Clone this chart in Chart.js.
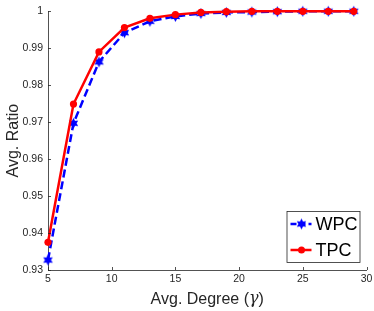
<!DOCTYPE html>
<html>
<head>
<meta charset="utf-8">
<script src="https://cdn.jsdelivr.net/npm/chart.js@4/dist/chart.umd.min.js"></script>
<style>
  html, body { margin: 0; padding: 0; background: #fff; }
  #wrap { width: 374px; height: 311px; }
</style>
</head>
<body>
<div id="wrap"><canvas id="c"></canvas></div>
<script>
const degrees = [5, 7, 9, 11, 13, 15, 17, 19, 21, 23, 25, 27, 29];
const wpc = [0.9327, 0.9697, 0.9863, 0.9942, 0.9973, 0.9986, 0.9994, 0.9997, 0.9998, 0.9999, 1.0, 1.0, 1.0];
const tpc = [0.9375, 0.9749, 0.9890, 0.9956, 0.9981, 0.9991, 0.9997, 0.9999, 1.0, 1.0, 1.0, 1.0, 1.0];
const seriesNames = ["WPC", "TPC"];
const xTitle = ["Avg. Degree (", "γ", ")"];

const axisColor = "#262626";
const fam = "'Liberation Sans', Arial, sans-serif";

// filled six point star like the matlab hexagram
function makeStar(r, color) {
  const s = Math.ceil(r * 2 + 2);
  const cv = document.createElement("canvas");
  cv.width = s; cv.height = s;
  const g = cv.getContext("2d");
  const c = s / 2;
  g.fillStyle = color;
  g.beginPath();
  for (let i = 0; i < 12; i++) {
    const a = -Math.PI / 2 + i * Math.PI / 6;
    const rr = i % 2 === 0 ? r : r * 0.55;
    const x = c + rr * Math.cos(a), y = c + rr * Math.sin(a);
    if (i === 0) g.moveTo(x, y); else g.lineTo(x, y);
  }
  g.closePath();
  g.fill();
  return cv;
}
const star = makeStar(5.5, "#0000ff");

const extras = {
  id: "extras",
  afterDraw(chart) {
    const ctx = chart.ctx, a = chart.chartArea;
    const xs = chart.scales.x, ys = chart.scales.y;
    ctx.save();
    // ticks pointing into the plot
    ctx.strokeStyle = axisColor;
    ctx.lineWidth = 0.8;
    ctx.beginPath();
    xs.ticks.forEach(t => {
      const px = Math.round(xs.getPixelForValue(t.value)) + 0.5;
      ctx.moveTo(px, a.bottom); ctx.lineTo(px, a.bottom - 3);
    });
    ys.ticks.forEach(t => {
      const py = Math.round(ys.getPixelForValue(t.value)) + 0.5;
      ctx.moveTo(a.left, py); ctx.lineTo(a.left + 3, py);
    });
    ctx.stroke();

    // x title with italic gamma
    ctx.fillStyle = axisColor;
    ctx.textBaseline = "middle";
    const fN = "16px " + fam, fI = "italic 16px 'DejaVu Serif', serif";
    ctx.font = fN; const w0 = ctx.measureText(xTitle[0]).width, w2 = ctx.measureText(xTitle[2]).width;
    ctx.font = fI; const w1 = ctx.measureText(xTitle[1]).width;
    let tx = (a.left + a.right) / 2 - (w0 + w1 + w2) / 2;
    const ty = 300;
    ctx.textAlign = "left";
    ctx.font = fN; ctx.fillText(xTitle[0], tx, ty); tx += w0;
    ctx.font = fI; ctx.fillText(xTitle[1], tx, ty - 1); tx += w1;
    ctx.font = fN; ctx.fillText(xTitle[2], tx, ty);

    // legend box in the lower right corner
    const bw = 73, bh = 51;
    const bx = a.right - 7 - bw, by = a.bottom - 8 - bh;
    ctx.fillStyle = "#fff";
    ctx.fillRect(bx, by, bw, bh);
    ctx.strokeStyle = axisColor;
    ctx.lineWidth = 0.8;
    ctx.strokeRect(bx + 0.5, by + 0.5, bw, bh);
    ctx.font = "18px " + fam;
    const rows = [by + 13, by + 39];
    // WPC
    ctx.strokeStyle = "#0000ff";
    ctx.lineWidth = 2.5;
    ctx.setLineDash([6, 3]);
    ctx.beginPath(); ctx.moveTo(bx + 4, rows[0]); ctx.lineTo(bx + 25, rows[0]); ctx.stroke();
    ctx.setLineDash([]);
    ctx.drawImage(star, bx + 15 - star.width / 2, rows[0] - star.height / 2);
    ctx.fillStyle = "#000";
    ctx.fillText(seriesNames[0], bx + 29, rows[0] + 1);
    // TPC
    ctx.strokeStyle = "#ff0000";
    ctx.beginPath(); ctx.moveTo(bx + 4, rows[1]); ctx.lineTo(bx + 25, rows[1]); ctx.stroke();
    ctx.fillStyle = "#ff0000";
    ctx.beginPath(); ctx.arc(bx + 15, rows[1], 3.5, 0, Math.PI * 2); ctx.fill();
    ctx.fillStyle = "#000";
    ctx.fillText(seriesNames[1], bx + 29, rows[1] + 1);
    ctx.restore();
  }
};

const tickFont = { family: fam, size: 10.5 };
const titleFont = { family: fam, size: 16 };

new Chart(document.getElementById("c"), {
  type: "line",
  data: {
    datasets: [
      {
        label: seriesNames[0],
        data: degrees.map((d, i) => ({ x: d, y: wpc[i] })),
        borderColor: "#0000ff",
        backgroundColor: "#0000ff",
        borderWidth: 2.5,
        borderDash: [8, 4],
        pointStyle: star,
        pointRadius: 5,
        tension: 0,
        clip: false,
        order: 1
      },
      {
        label: seriesNames[1],
        data: degrees.map((d, i) => ({ x: d, y: tpc[i] })),
        borderColor: "#ff0000",
        backgroundColor: "#ff0000",
        borderWidth: 2.5,
        pointStyle: "circle",
        pointRadius: 3.6,
        pointBorderWidth: 0,
        tension: 0,
        clip: false,
        order: 0
      }
    ]
  },
  options: {
    responsive: true,
    maintainAspectRatio: false,
    animation: false,
    layout: { padding: { top: 7, right: 6, left: 0, bottom: 0 } },
    plugins: { legend: { display: false }, tooltip: { enabled: false } },
    scales: {
      x: {
        type: "linear",
        min: 5, max: 30,
        ticks: { stepSize: 5, color: axisColor, font: tickFont, padding: 3, maxRotation: 0 },
        grid: { drawOnChartArea: false, drawTicks: false },
        border: { color: axisColor, width: 0.8 },
        title: { display: false },
        afterFit(s) { s.height = 41; s.paddingRight = 0; s.paddingLeft = 0; }
      },
      y: {
        min: 0.93, max: 1,
        ticks: {
          stepSize: 0.01, color: axisColor, font: tickFont, padding: 5,
          callback: v => String(Number(v.toFixed(2)))
        },
        grid: { drawOnChartArea: false, drawTicks: false },
        border: { color: axisColor, width: 0.8 },
        title: { display: true, text: "Avg. Ratio", color: axisColor, font: titleFont, padding: { top: 4, bottom: 0 } },
        afterFit(s) { s.width = 48; }
      }
    }
  },
  plugins: [extras]
});
</script>
</body>
</html>
